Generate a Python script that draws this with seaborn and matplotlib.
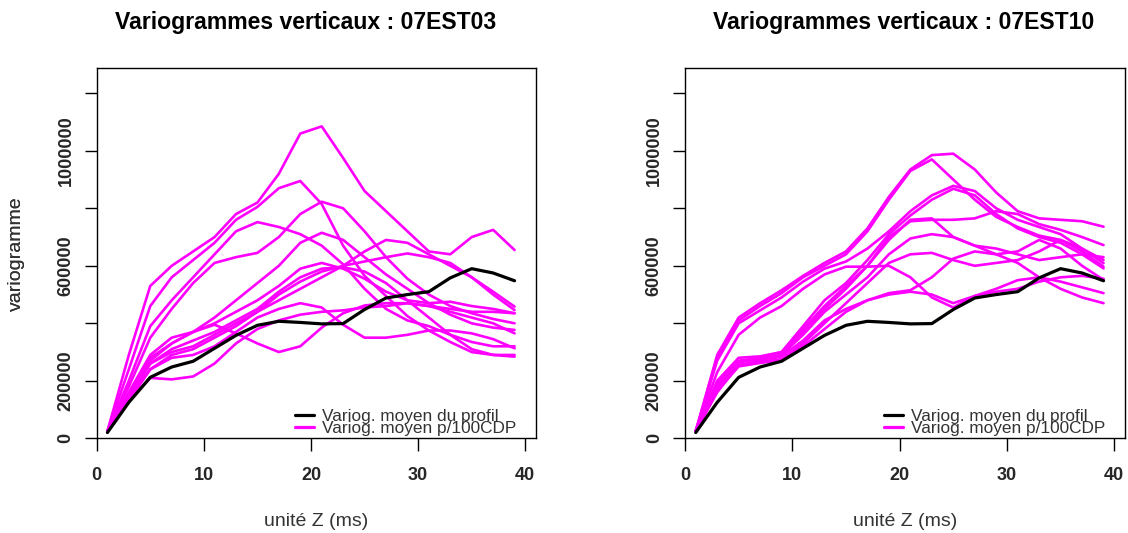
import numpy as np
import pandas as pd
import matplotlib
matplotlib.use("Agg")
import matplotlib.pyplot as plt
import seaborn as sns
from matplotlib.lines import Line2D

# ---------------- data (variogram values in thousands) ----------------
lags = [1, 3, 5, 7, 9, 11, 13, 15, 17, 19, 21, 23, 25, 27, 29, 31, 33, 35, 37, 39]

mean_profile_k = [20, 125, 212, 248, 268, 313, 358, 393, 407, 403,
                  398, 399, 448, 488, 500, 510, 558, 590, 575, 548]

left_cdp_k = [
    [25, 290, 530, 600, 650, 700, 780, 820, 920, 1060, 1085, 975, 860, 790, 720, 650, 640, 700, 725, 655],
    [25, 240, 460, 560, 620, 680, 760, 805, 870, 895, 815, 670, 565, 495, 425, 375, 335, 300, 290, 290],
    [25, 200, 390, 480, 560, 640, 720, 752, 735, 710, 670, 605, 520, 450, 410, 390, 360, 335, 320, 320],
    [25, 180, 350, 450, 540, 610, 630, 645, 700, 780, 823, 800, 720, 630, 555, 500, 460, 435, 415, 400],
    [25, 150, 280, 330, 370, 420, 480, 540, 600, 680, 715, 690, 630, 570, 520, 470, 430, 400, 385, 377],
    [25, 140, 260, 300, 320, 360, 400, 440, 480, 520, 560, 600, 650, 690, 680, 640, 600, 560, 510, 458],
    [25, 130, 240, 290, 310, 350, 390, 440, 500, 545, 580, 600, 615, 630, 643, 630, 610, 560, 500, 446],
    [25, 150, 270, 330, 370, 395, 365, 330, 300, 320, 385, 435, 462, 470, 470, 460, 450, 440, 440, 435],
    [25, 130, 210, 205, 215, 260, 330, 380, 410, 430, 440, 445, 455, 460, 470, 460, 440, 420, 400, 365],
    [25, 140, 240, 280, 290, 320, 370, 420, 450, 470, 455, 395, 350, 350, 360, 375, 375, 365, 345, 313],
    [25, 150, 260, 310, 340, 370, 410, 450, 510, 560, 590, 595, 580, 540, 480, 420, 360, 310, 290, 284],
    [25, 160, 290, 350, 370, 400, 440, 480, 530, 590, 610, 590, 555, 510, 480, 470, 475, 460, 450, 435],
]

right_cdp_k = [
    [25, 290, 420, 470, 515, 565, 610, 650, 730, 840, 935, 985, 990, 935, 855, 790, 765, 760, 755, 736],
    [25, 280, 410, 460, 505, 560, 600, 640, 720, 830, 930, 970, 900, 830, 770, 735, 705, 690, 650, 597],
    [25, 270, 400, 445, 490, 545, 590, 615, 660, 720, 790, 845, 878, 860, 800, 760, 735, 710, 660, 609],
    [25, 200, 280, 285, 300, 390, 480, 540, 620, 710, 775, 830, 868, 845, 780, 730, 700, 680, 640, 591],
    [25, 190, 270, 280, 300, 380, 460, 530, 600, 700, 755, 760, 760, 765, 790, 780, 745, 725, 700, 672],
    [25, 180, 265, 275, 290, 370, 450, 520, 600, 690, 760, 765, 700, 670, 640, 610, 560, 520, 490, 470],
    [25, 230, 360, 420, 460, 520, 570, 597, 597, 600, 560, 490, 455, 495, 520, 550, 560, 545, 525, 505],
    [25, 175, 265, 275, 290, 360, 440, 500, 560, 640, 695, 710, 700, 670, 660, 640, 620, 630, 640, 630],
    [25, 160, 255, 265, 275, 330, 400, 470, 540, 610, 640, 645, 620, 600, 610, 620, 650, 690, 660, 620],
    [25, 165, 250, 262, 272, 320, 380, 440, 480, 505, 515, 560, 625, 650, 640, 650, 690, 660, 600, 551],
    [25, 170, 255, 268, 285, 340, 410, 450, 480, 500, 510, 500, 470, 495, 510, 520, 545, 560, 565, 555],
]

titles = ["Variogrammes verticaux : 07EST03", "Variogrammes verticaux : 07EST10"]
legend_labels = ["Variog. moyen du profil", "Variog. moyen p/100CDP"]
xticks = [0, 10, 20, 30, 40]
yticks = [0, 200000, 400000, 600000, 800000, 1000000, 1200000]
ytick_labels = ["0", "200000", "", "600000", "", "1000000", ""]
UNIT = 1000

# ---------------- style ----------------
sns.set_theme(style="white")
plt.rcParams["font.family"] = ["Liberation Sans", "DejaVu Sans"]

W, H = 1128, 533
fig = plt.figure(figsize=(W / 100, H / 100), dpi=100)
ax_rect = [(96.7, 68.3, 536.0, 438.3), (685.0, 68.3, 1125.0, 438.3)]
title_cx = [306.0, 904.0]

MAGENTA = "#FF00FF"
GREY = "#333333"


def to_df(curves):
    rows = []
    for cid, vals in enumerate(curves):
        for lag, v in zip(lags, vals):
            rows.append({"curve": cid, "lag": lag, "gamma": v * UNIT})
    return pd.DataFrame(rows)


mean_df = pd.DataFrame({"lag": lags, "gamma": [v * UNIT for v in mean_profile_k]})

for i, (curves, title) in enumerate(zip([left_cdp_k, right_cdp_k], titles)):
    x0, y0, x1, y1 = ax_rect[i]
    ax = fig.add_axes([x0 / W, 1 - y1 / H, (x1 - x0) / W, (y1 - y0) / H])
    df = to_df(curves)
    sns.lineplot(data=df, x="lag", y="gamma", units="curve", estimator=None,
                 color=MAGENTA, lw=1.9, ax=ax, legend=False, sort=False)
    sns.lineplot(data=mean_df, x="lag", y="gamma", color="black", lw=2.3,
                 ax=ax, legend=False)

    ax.set_xlim(0, 41)
    ax.set_ylim(0, 1287000)
    ax.set_xticks(xticks)
    ax.set_xticklabels([str(t) for t in xticks], fontsize=13, fontweight="bold")
    ax.set_yticks(yticks)
    ax.set_yticklabels(ytick_labels, fontsize=13, fontweight="bold",
                       rotation=90, va="center")
    ax.tick_params(axis="both", direction="out", length=9, width=1,
                   color="black", bottom=True, left=True)
    ax.tick_params(axis="x", pad=12)
    ax.tick_params(axis="y", pad=7)
    for sp in ax.spines.values():
        sp.set_color("black")
        sp.set_linewidth(1.0)
    ax.grid(False)

    ax.set_xlabel("unité Z (ms)", fontsize=14, color=GREY)
    ax.set_ylabel("variogramme", fontsize=14, color=GREY)
    ax.xaxis.set_label_coords(0.5, (y1 - 513.0) / (y1 - y0))
    ax.yaxis.set_label_coords((25.0 - x0) / (x1 - x0), 0.5)

    ax.text((title_cx[i] - x0) / (x1 - x0), (y1 - 22.5) / (y1 - y0), title,
            transform=ax.transAxes, ha="center", va="center",
            fontsize=16.6, fontweight="bold", color="black")

    handles = [Line2D([], [], color="black", lw=2.3),
               Line2D([], [], color=MAGENTA, lw=2.3)]
    ax.legend(handles, legend_labels, loc="lower right",
              bbox_to_anchor=(0.955, 0.005), frameon=False, fontsize=12.4,
              labelspacing=-0.18, handlelength=1.1, handletextpad=0.45,
              borderpad=0, borderaxespad=0, labelcolor=GREY)

fig.savefig("out.png", dpi=100, facecolor="white")
